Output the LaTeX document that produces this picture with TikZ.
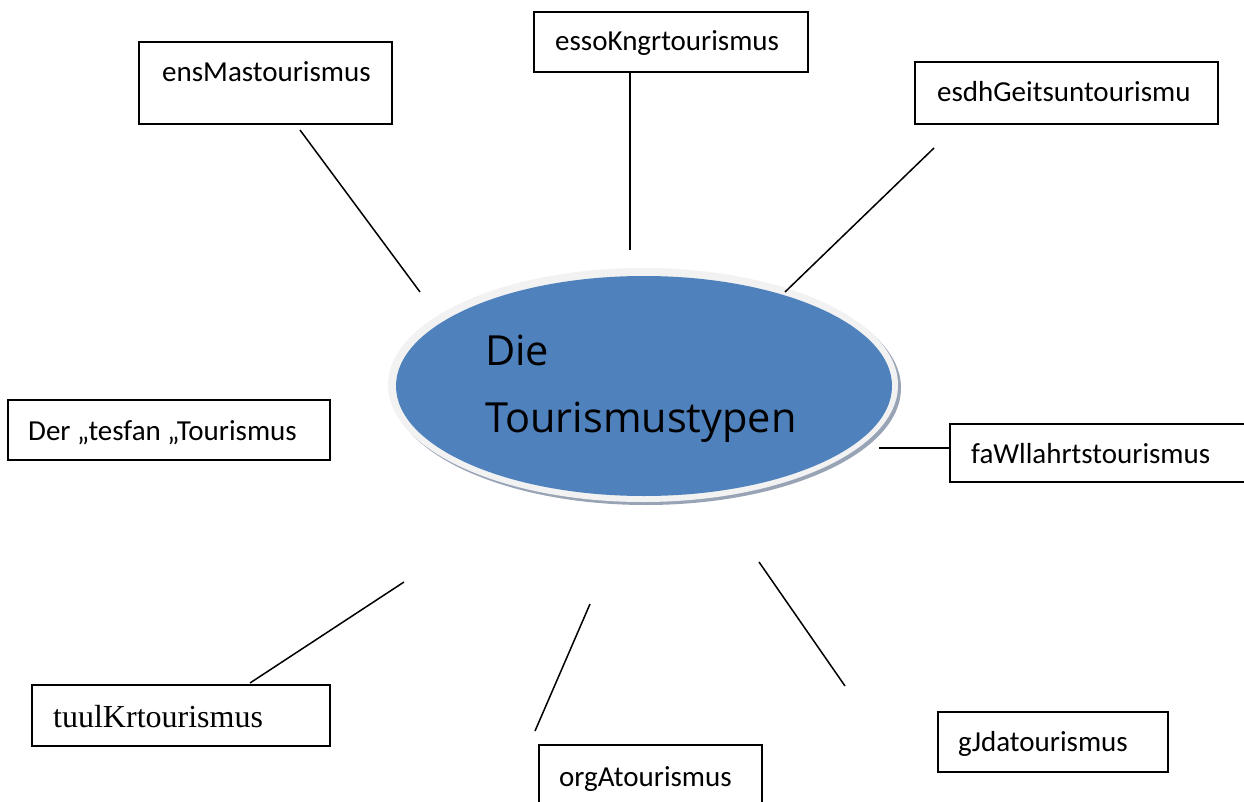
\documentclass[tikz,border=0pt]{standalone}
\usepackage{fontspec}
\usetikzlibrary{shapes.geometric}
\setmainfont{Carlito}
\newfontfamily\timesf{Liberation Serif}
\newfontfamily\centerf{Open Sans}
\definecolor{blueF}{HTML}{4F81BD}
\definecolor{ringF}{HTML}{F2F2F2}
\definecolor{shadF}{HTML}{98A4B6}
\tikzset{
  box/.style={draw=black, line width=1.3pt, fill=white, inner sep=0pt},
  lbl/.style={font=\fontsize{29}{34}\selectfont, inner sep=0pt, anchor=base west},
  ctr/.style={font=\centerf\fontsize{41.5}{48}\selectfont, inner sep=0pt, anchor=base west},
  link/.style={draw=black, line width=1.5pt},
}
\begin{document}
\begin{tikzpicture}[x=1pt,y=-1pt]
\useasboundingbox (0,0) rectangle (1244,802);
% central ellipse
\fill[shadF] (646,388) ellipse [x radius=255, y radius=117];
\fill[ringF] (643,385) ellipse [x radius=255, y radius=117];
\node[fill=blueF, ellipse, minimum width=496, minimum height=220, inner sep=0pt] (core) at (644,386) {};
\node[ctr] (die) at (485,365) {Die};
\node[ctr] (typen) at (485,432) {Tourismustypen};

% boxes
\node[box, minimum width=253, minimum height=82] (mas) at (265.5,83) {};
\node[lbl] at (162,82) {ensMastourismus};
\node[box, minimum width=274, minimum height=60] (kon) at (671,42) {};
\node[lbl] at (555,51) {essoKngrtourismus};
\node[box, minimum width=303, minimum height=62] (ges) at (1066.5,93) {};
\node[lbl] at (937,102) {esdhGeitsuntourismu};
\node[box, minimum width=322, minimum height=60] (tes) at (169,430) {};
\node[lbl] at (28,440) {Der „tesfan „Tourismus};
\node[box, minimum width=300, minimum height=58] (wal) at (1100,453) {};
\node[lbl] at (971,463) {faWllahrtstourismus};
\node[box, minimum width=298, minimum height=61] (kul) at (181,715.5) {};
\node[lbl, font=\timesf\fontsize{32}{38}\selectfont] at (53,727) {tuulKrtourismus};
\node[box, minimum width=223, minimum height=70] (agr) at (650.5,780) {};
\node[lbl] at (559,786) {orgAtourismus};
\node[box, minimum width=230, minimum height=60] (jag) at (1053,742) {};
\node[lbl] at (958,751) {gJdatourismus};

% connector ends
\coordinate (m1) at (300,130); \coordinate (m2) at (420,292);
\coordinate (k1) at (630,72);  \coordinate (k2) at (630,250);
\coordinate (g1) at (934,148); \coordinate (g2) at (785,292);
\coordinate (w1) at (879,448);
\coordinate (c1) at (404,582); \coordinate (c2) at (250,683);
\coordinate (a1) at (590,604); \coordinate (a2) at (535,731);
\coordinate (j1) at (759,562); \coordinate (j2) at (845,686);

\draw[link] (m1) -- (m2);
\draw[link] (kon.south -| k1) -- (k2);
\draw[link] (g1) -- (g2);
\draw[link] (w1) -- (wal.west |- w1);
\draw[link] (c1) -- (c2);
\draw[link] (a1) -- (a2);
\draw[link] (j1) -- (j2);
\end{tikzpicture}
\end{document}
